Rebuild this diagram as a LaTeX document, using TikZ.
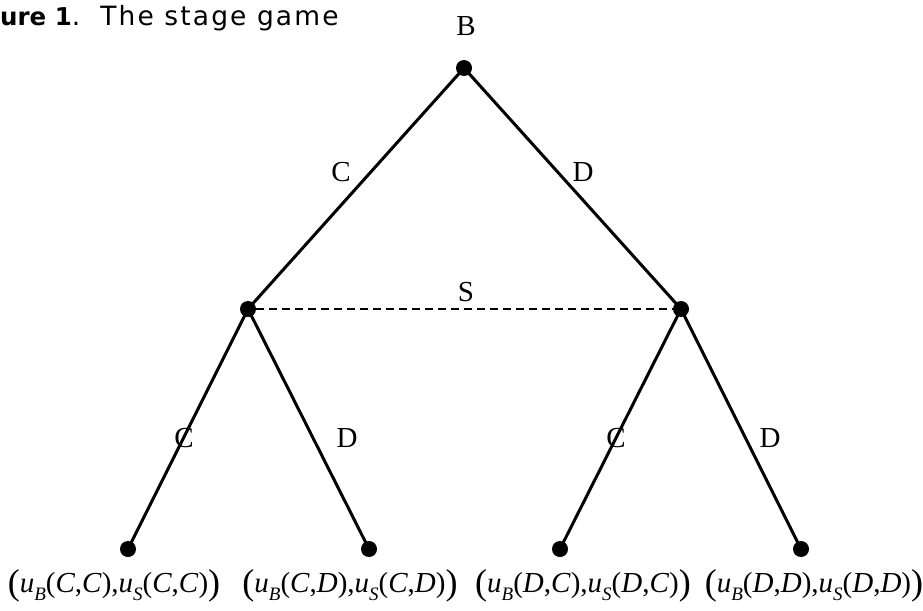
\documentclass[tikz,border=0pt]{standalone}
\usepackage{fontspec}
\setmainfont{Liberation Serif}
\newfontfamily\titlefont[LetterSpace=8]{DejaVu Sans}
\newfontfamily\titlebold{DejaVu Sans Bold}
\newcommand{\lsub}[1]{\raisebox{-0.3em}{\fontsize{19}{19}\selectfont\textit{#1}}}
\newcommand{\bpar}[1]{{\fontsize{36}{36}\selectfont\raisebox{-0.07em}{#1}}}
\newcommand{\pf}[2]{\bpar{(}\textit{u}\lsub{B}(\textit{#1},\textit{#2}),\textit{u}\lsub{S}(\textit{#1},\textit{#2})\bpar{)}}
\begin{document}
\begin{tikzpicture}[x=1pt,y=-1pt,
  dot/.style={circle,fill=black,inner sep=0pt,minimum size=16pt},
  edge/.style={line width=3pt},
  lbl/.style={font=\fontsize{29}{29}\selectfont,inner sep=0pt},
  pay/.style={font=\fontsize{29}{29}\selectfont,inner sep=0pt,anchor=base}]
\useasboundingbox (0,0) rectangle (923,610);
\node[anchor=base west,inner sep=0pt] (title) at (0,26) {{\titlebold\fontsize{24.5}{25}\selectfont ure 1}{\titlefont\fontsize{26.5}{27}\selectfont.\hspace{6pt} The stage game}};
\node[dot] (r) at (464,68) {};
\node[dot] (l) at (248,309) {};
\node[dot] (m) at (681,309) {};
\node[dot] (ll) at (128,549) {};
\node[dot] (lr) at (369,549) {};
\node[dot] (rl) at (560,549) {};
\node[dot] (rr) at (801,549) {};
\draw[edge] (r.center) -- (l.center);
\draw[edge] (r.center) -- (m.center);
\draw[edge] (l.center) -- (ll.center);
\draw[edge] (l.center) -- (lr.center);
\draw[edge] (m.center) -- (rl.center);
\draw[edge] (m.center) -- (rr.center);
\draw[line width=2pt,dash pattern=on 8pt off 5pt] (l) -- (m);
\node[lbl] (tB) at (466,26) {B};
\node[lbl] (tC1) at (341,172) {C};
\node[lbl] (tD1) at (583,172) {D};
\node[lbl] (tS) at (466,292) {S};
\node[lbl] (tC2) at (184,438) {C};
\node[lbl] (tD2) at (347,438) {D};
\node[lbl] (tC3) at (616,438) {C};
\node[lbl] (tD3) at (770,438) {D};
\node[pay] (p1) at (114,592) {\pf{C}{C}};
\node[pay] (p2) at (350,592) {\pf{C}{D}};
\node[pay] (p3) at (583,592) {\pf{D}{C}};
\node[pay] (p4) at (814,592) {\pf{D}{D}};
\end{tikzpicture}
\end{document}
